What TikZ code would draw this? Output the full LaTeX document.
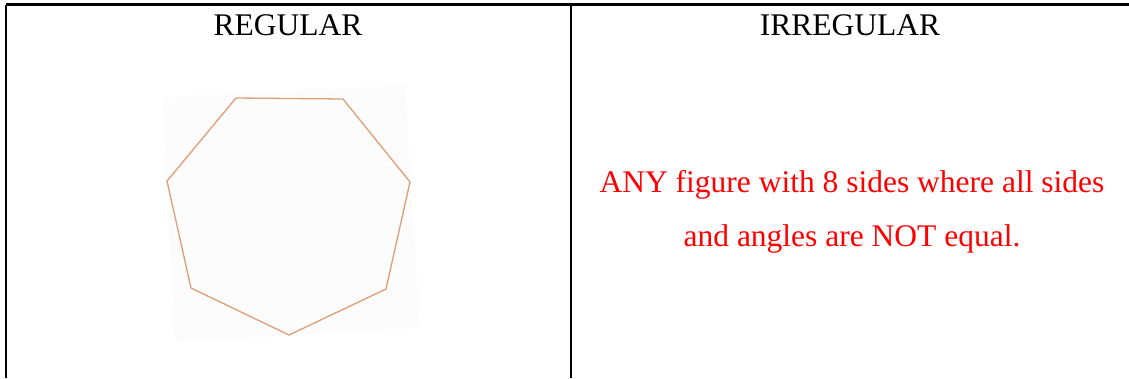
\documentclass[tikz,border=0pt]{standalone}
\usepackage{fontspec}
\setmainfont{Liberation Serif}
\definecolor{cuivre}{RGB}{222,158,118}
\definecolor{fondimage}{RGB}{252,252,252}
\definecolor{rouge}{RGB}{255,0,0}
\begin{document}
\begin{tikzpicture}[x=1pt,y=-1pt]
			% Styles
			\tikzstyle{bordure}=[line width=2.2pt,black]
			\tikzstyle{titre}=[anchor=base,inner sep=0pt,font=\fontsize{31.5}{36}\selectfont]
			\tikzstyle{texte}=[anchor=base,inner sep=0pt,text=rouge,font=\fontsize{31.5}{36}\selectfont]
			\tikzstyle{contour}=[cuivre,line width=1.3pt,line join=round]
			% Dimensions
			\def\Largeur{1129}
			\def\Hauteur{378}
			\def\Milieu{571}
			\useasboundingbox (0,0) rectangle (\Largeur,\Hauteur);
			% Tableau
			\draw[bordure] (6,4.5) -- (\Largeur,4.5);
			\draw[bordure] (6,4.5) -- (6,\Hauteur);
			\draw[bordure] (\Milieu,4.5) -- (\Milieu,\Hauteur);
			% Titres
			\node[titre] (regulier) at (288,35) {REGULAR};
			\node[titre] (irregulier) at (850,35) {IRREGULAR};
			% Image de gauche
			\fill[fondimage] (162,97) -- (405,85) -- (420,328) -- (175,342) -- cycle;
			\coordinate (S1) at (236,98);
			\coordinate (S2) at (343,99);
			\coordinate (S3) at (410,182);
			\coordinate (S4) at (386,289);
			\coordinate (S5) at (289,335);
			\coordinate (S6) at (191,288);
			\coordinate (S7) at (167,181);
			\draw[contour] (S1) -- (S2) -- (S3) -- (S4) -- (S5) -- (S6) -- (S7) -- cycle;
			% Texte de droite
			\node[texte] (ligneA) at (852,192) {ANY figure with 8 sides where all sides};
			\node[texte] (ligneB) at (852,246) {and angles are NOT equal.};
\end{tikzpicture}
\end{document}
